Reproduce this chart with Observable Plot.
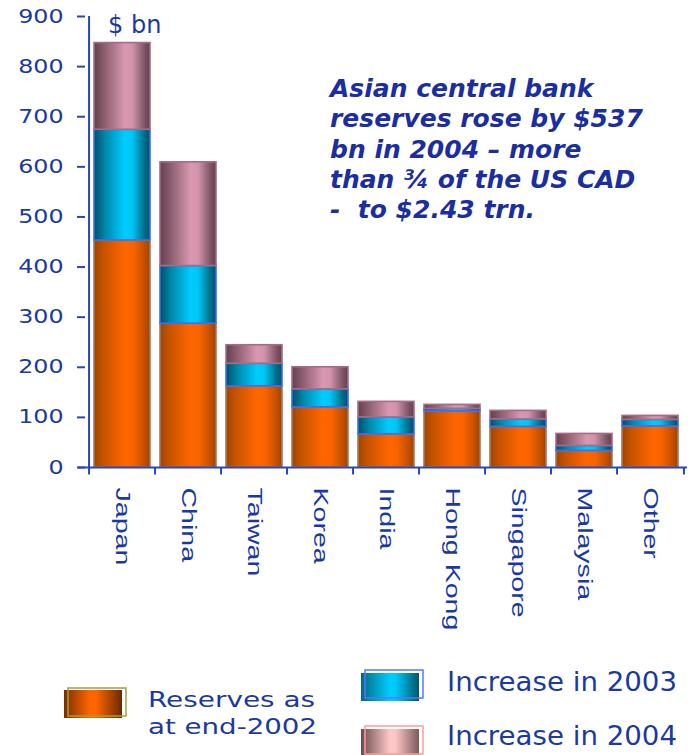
<!DOCTYPE html>
<html>
<head>
<meta charset="utf-8">
<script src="https://cdn.jsdelivr.net/npm/d3@7"></script>
<script src="https://cdn.jsdelivr.net/npm/@observablehq/plot@0.6"></script>
<style>
  html, body { margin: 0; padding: 0; background: #ffffff; }
  #wrap { position: relative; width: 692px; height: 755px; overflow: hidden; }
  #wrap svg { display: block; }
</style>
</head>
<body>
<div id="wrap"></div>
<script>
// ---- data ($ bn) ----
const countries = ["Japan", "China", "Taiwan", "Korea", "India", "Hong Kong", "Singapore", "Malaysia", "Other"];
const reserves2002 = [453, 287, 162, 120, 66, 112, 81, 33, 82];
const increase2003 = [221, 115, 45, 36, 34, 5, 15, 10, 13];
const increase2004 = [173, 207, 37, 44, 31, 8, 17, 24, 8];
const seriesNames = ["Reserves as at end-2002", "Increase in 2003", "Increase in 2004"];
const yTicks = [0, 100, 200, 300, 400, 500, 600, 700, 800, 900];
const unitLabel = "$ bn";
const annotationLines = ["Asian central bank", "reserves rose by $537", "bn in 2004 \u2013 more", "than \u00be of the US CAD", "-  to $2.43 trn."];
const legendLabels = [["Reserves as", "at end-2002"], ["Increase in 2003"], ["Increase in 2004"]];

const table = countries.flatMap((c, i) => [
  {country: c, series: seriesNames[0], value: reserves2002[i]},
  {country: c, series: seriesNames[1], value: increase2003[i]},
  {country: c, series: seriesNames[2], value: increase2004[i]}
]);

// ---- styling ----
const W = 692, H = 755;
const mL = 85, mR = 5, mT = 16, mB = 288;
const bw = (W - mL - mR) / countries.length;
const axisColor = "#2a46b0";
const textColor = "#1a3a9e";
const fills = {
  [seriesNames[0]]: "url(#gOrange)",
  [seriesNames[1]]: "url(#gCyan)",
  [seriesNames[2]]: "url(#gPink)"
};
const strokes = {
  [seriesNames[0]]: "#a27a62",
  [seriesNames[1]]: "#3a6cff",
  [seriesNames[2]]: "#a86a88"
};
const tickSymbol = {draw(ctx) { ctx.moveTo(0, 0); ctx.lineTo(0, 7); }};

const chart = Plot.plot({
  width: W, height: H,
  marginLeft: mL, marginRight: mR, marginTop: mT, marginBottom: mB,
  style: {fontFamily: "DejaVu Sans", background: "transparent", color: textColor, overflow: "visible"},
  x: {type: "band", domain: countries, padding: 0, axis: null},
  y: {domain: [0, 900], axis: null},
  color: {type: "identity"},
  marks: [
    Plot.barY(table, Plot.stackY({
      x: "country", y: "value", z: "series", order: seriesNames,
      fill: d => fills[d.series], stroke: d => strokes[d.series],
      strokeWidth: 1.6, insetLeft: 5, insetRight: 5
    })),
    Plot.ruleX([countries[0]], {x: d => d, dx: -bw / 2, y1: 0, y2: 900, stroke: axisColor, strokeWidth: 2}),
    Plot.ruleY([0], {stroke: axisColor, strokeWidth: 2, insetLeft: -7}),
    Plot.dot(countries, {x: d => d, y: () => 0, dx: -bw / 2, symbol: tickSymbol, stroke: axisColor, strokeWidth: 2, fill: "none"}),
    Plot.dot([countries[countries.length - 1]], {x: d => d, y: () => 0, dx: bw / 2, symbol: tickSymbol, stroke: axisColor, strokeWidth: 2, fill: "none"}),
    Plot.axisY({ticks: yTicks, tickSize: 8, tickPadding: 14, fontSize: 19, fontFamily: "DejaVu Sans",
      stroke: axisColor, strokeWidth: 2, fill: textColor, label: null}),
    Plot.axisX({anchor: "bottom", tickSize: 0, tickPadding: 20, rotate: 90, textAnchor: "start", lineAnchor: "middle",
      fontSize: 21, fontFamily: "Liberation Sans", fill: "#1838a8", label: null})
  ]
});

document.getElementById("wrap").appendChild(chart);

const svg = d3.select(chart);
const defs = svg.insert("defs", ":first-child");
function grad(id, stops) {
  const g = defs.append("linearGradient").attr("id", id)
    .attr("x1", "0").attr("x2", "1").attr("y1", "0").attr("y2", "0");
  stops.forEach(([o, c]) => g.append("stop").attr("offset", o).attr("stop-color", c));
}
grad("gOrange", [[0, "#a24400"], [0.18, "#c85400"], [0.55, "#ff6600"], [0.7, "#f86400"], [0.9, "#c45000"], [1, "#a04200"]]);
grad("gCyan", [[0, "#005064"], [0.2, "#0088aa"], [0.55, "#00ccff"], [0.68, "#00c6f6"], [0.9, "#006e88"], [1, "#005064"]]);
grad("gPink", [[0, "#64404e"], [0.2, "#8e6070"], [0.55, "#d898b0"], [0.68, "#d294ac"], [0.9, "#7e5666"], [1, "#64404e"]]);
grad("lOrange", [[0, "#7a2f00"], [0.45, "#ff6600"], [0.55, "#ff6600"], [1, "#6a2800"]]);
grad("lCyan", [[0, "#006a80"], [0.5, "#00ccff"], [0.6, "#00c8fa"], [1, "#005468"]]);
grad("lPink", [[0, "#6c4c4c"], [0.5, "#ffc8c8"], [0.6, "#fcc4c4"], [1, "#7a5a5a"]]);

// stretch axis tick labels along their writing direction (wide lettering of the original)
function stretch(sel, s) {
  chart.querySelectorAll(sel).forEach(t => {
    const tr = t.getAttribute("transform") || "";
    const x = +t.getAttribute("x") || 0, y = +t.getAttribute("y") || 0;
    t.setAttribute("transform", `${tr} translate(${x},${y}) scale(${s},1) translate(${-x},${-y})`);
  });
}
stretch('g[aria-label="y-axis tick label"] text', 1.25);
stretch('g[aria-label="x-axis tick label"] text', 1.36);

// unit label
svg.append("text").attr("x", 108).attr("y", 33).attr("text-anchor", "start")
  .attr("font-family", "DejaVu Sans").attr("font-size", 24).attr("fill", textColor)
  .text(unitLabel);

// annotation
const ann = svg.append("text").attr("x", 330).attr("y", 97).attr("text-anchor", "start")
  .attr("font-family", "DejaVu Sans").attr("font-size", 25)
  .attr("font-weight", "bold").attr("font-style", "italic")
  .attr("fill", "#1a2ea2").style("white-space", "pre");
annotationLines.forEach((line, i) => {
  ann.append("tspan").attr("x", 330).attr("dy", i === 0 ? 0 : 30.3).text(line);
});

// legend
const lg = svg.append("g").attr("font-family", "DejaVu Sans")
  .attr("fill", textColor).attr("text-anchor", "start");
const sw = [
  {fx: 64, fy: 690, ox: 68, oy: 688, fill: "url(#lOrange)", stroke: "#a0a040"},
  {fx: 361, fy: 673, ox: 365, oy: 670, fill: "url(#lCyan)", stroke: "#5577ff"},
  {fx: 361, fy: 729, ox: 365, oy: 726, fill: "url(#lPink)", stroke: "#ff9c9c"}
];
sw.forEach(s => {
  lg.append("rect").attr("x", s.fx).attr("y", s.fy).attr("width", 58).attr("height", 28).attr("fill", s.fill);
  lg.append("rect").attr("x", s.ox).attr("y", s.oy).attr("width", 58).attr("height", 28)
    .attr("fill", "none").attr("stroke", s.stroke).attr("stroke-width", 1.5);
});
const legText = [
  {x: 148, y: 707, t: legendLabels[0][0], len: 167, fs: 22},
  {x: 148, y: 734, t: legendLabels[0][1], len: 169, fs: 22},
  {x: 447, y: 691, t: legendLabels[1][0], len: 230, fs: 26},
  {x: 447, y: 745, t: legendLabels[2][0], len: 230, fs: 26}
];
legText.forEach(d => {
  lg.append("text").attr("x", d.x).attr("y", d.y).attr("text-anchor", "start").attr("font-size", d.fs)
    .attr("textLength", d.len).attr("lengthAdjust", "spacingAndGlyphs").text(d.t);
});
</script>
</body>
</html>
